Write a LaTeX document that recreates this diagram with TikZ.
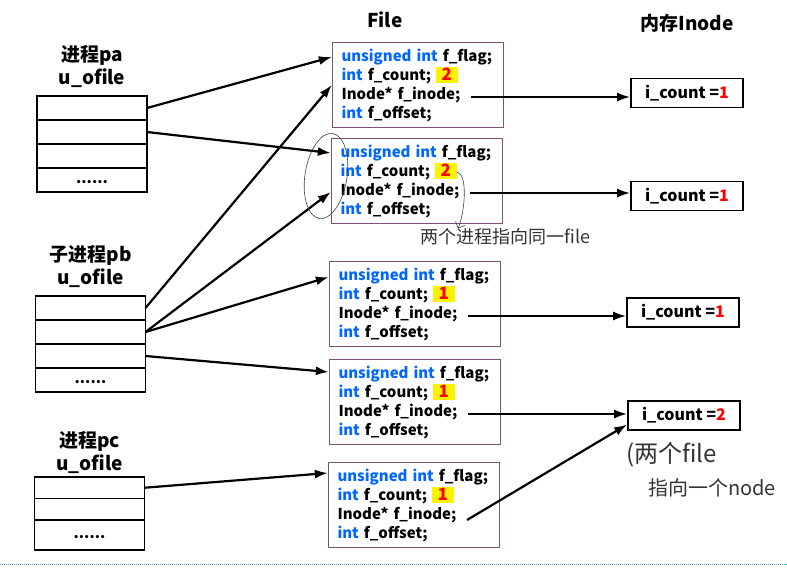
\documentclass[tikz,border=0pt]{standalone}
\usepackage{fontspec}
\setmainfont{Noto Sans CJK SC}
\usetikzlibrary{arrows.meta,positioning,calc}
\definecolor{kwd}{RGB}{0,102,255}
\definecolor{filec}{RGB}{128,80,120}
\definecolor{sepc}{RGB}{75,172,198}
\newcommand{\kwd}[1]{\textcolor{kwd}{#1}}
\newcommand{\cntbox}[1]{{\setlength{\fboxsep}{0pt}\colorbox{yellow}{\rule[-3pt]{0pt}{16.5pt}\hspace{5.5pt}{\fontsize{17}{17}\selectfont\textcolor{red}{#1}}\hspace{5.5pt}}}}
\newcommand{\fieldlist}[1]{\kwd{unsigned int} f\_flag;\\\kwd{int} f\_count;\hspace{5pt}\cntbox{#1}\\Inode* f\_inode;\\\kwd{int} f\_offset;}
\newcommand{\dotrow}{\rule{0pt}{8pt}\makebox[32pt]{.\hfill.\hfill.\hfill.\hfill.\hfill.}}

\begin{document}
\begin{tikzpicture}[x=1pt,y=-1pt,
  slot/.style={draw, line width=1.6pt, minimum width=110pt, minimum height=24pt, inner sep=0pt, outer sep=0pt, font=\fontsize{15}{15}\selectfont\bfseries},
  proc/.style={align=center, inner sep=0pt, font=\fontsize{19}{23}\selectfont\bfseries},
  filebox/.style={draw=filec, line width=1.3pt, text width=153pt, inner xsep=9pt, inner ysep=0pt, minimum height=85pt, align=left, font=\fontsize{15}{19}\selectfont\bfseries},
  inode/.style={draw, line width=1.6pt, minimum width=112pt, minimum height=29pt, font=\fontsize{16}{16}\selectfont\bfseries},
  head/.style={font=\fontsize{19}{19}\selectfont\bfseries},
  link/.style={-{Latex[length=13pt,width=9pt]}, line width=2.2pt},
  hand/.style={black!75, line width=0.6pt},
  note/.style={black!80, inner sep=0pt, font=\fontsize{18}{18}\selectfont}]
\useasboundingbox (0,0) rectangle (787,573);

% headings
\node[head] (hfile) at (385,20) {File};
\node[head] (hinode) at (687,23) {内存Inode};

% u_ofile tables
\node[slot] (pa1) at (92,108) {};
\node[slot, below=0pt of pa1] (pa2) {};
\node[slot, below=0pt of pa2] (pa3) {};
\node[slot, below=0pt of pa3] (pa4) {\dotrow};
\node[proc, above=8pt of pa1] (la) {进程pa\\u\_ofile};

\node[slot] (pb1) at (90.5,308) {};
\node[slot, below=0pt of pb1] (pb2) {};
\node[slot, below=0pt of pb2] (pb3) {};
\node[slot, below=0pt of pb3] (pb4) {\dotrow};
\node[proc, above=8pt of pb1] (lb) {子进程pb\\u\_ofile};

\node[slot, minimum height=21.5pt] (pc1) at (89.5,487.75) {};
\node[slot, minimum height=21.5pt, below=0pt of pc1] (pc2) {};
\node[slot, minimum height=30pt, below=0pt of pc2] (pc3) {\dotrow};
\node[proc, above=3pt of pc1] (lc) {进程pc\\u\_ofile};

% file structs
\node[filebox] (f1) at (418,85) {\fieldlist{2}};
\node[filebox] (f2) at (417,181) {\fieldlist{2}};
\node[filebox] (f3) at (415,304) {\fieldlist{1}};
\node[filebox] (f4) at (415,402) {\fieldlist{1}};
\node[filebox] (f5) at (414,505) {\fieldlist{1}};

% inodes
\node[inode] (i1) at (687,93) {i\_count =\textcolor{red}{1}};
\node[inode] (i2) at (687,196) {i\_count =\textcolor{red}{1}};
\node[inode] (i3) at (683,312.5) {i\_count =\textcolor{red}{1}};
\node[inode] (i4) at (684,415.5) {i\_count =\textcolor{red}{2}};

\coordinate (p1) at ([shift={(53,12)}]f1.center);
\coordinate (p2) at ([shift={(53,12)}]f2.center);
\coordinate (p3) at ([shift={(53,12)}]f3.center);
\coordinate (p4) at ([shift={(53,12)}]f4.center);
\coordinate (p5) at ([shift={(53,15)}]f5.center);

% table -> file
\draw[link] (pa1.east) -- ([yshift=28pt]f1.west);
\draw[link] (pa2.east) -- ([yshift=28pt]f2.west);
\draw[link] (pb1.east) -- (f1.west);
\draw[link] (pb2.east) -- ([yshift=-11pt]f2.west);
\draw[link] (pb2.east) -- ([yshift=27pt]f3.west);
\draw[link] (pb3.east) -- ([yshift=30pt]f4.west);
\draw[link] (pc1.east) -- ([yshift=32pt]f5.west);

% file -> inode
\draw[link] (p1) -- (p1 -| i1.west);
\draw[link] (p2) -- (p2 -| i2.west);
\draw[link] (p3) -- (p3 -| i3.west);
\draw[link] (p4) -- (p4 -| i4.west);
\draw[link] (p5) -- ([yshift=-9pt]i4.west);

% handwritten notes
\draw[hand, rotate around={-9:(326,176)}] (326,176) ellipse (21 and 43);
\coordinate (c2) at ([shift={(40,-9)}]f2.center);
\node[note, anchor=west] (n1) at (420,237) {两个进程指向同一file};
\draw[hand, -{Straight Barb[length=5pt]}] (c2) .. controls (468,174) and (465,212) .. ([xshift=38pt]n1.north west);
\node[note, font=\fontsize{24}{24}\selectfont, anchor=west] (n2) at (626,455) {(两个file};
\node[note, font=\fontsize{20}{20}\selectfont, anchor=west] (n3) at (648,488) {指向一个node};

\draw[sepc, line width=0.8pt, dash pattern=on 1pt off 1pt] (0,564) -- (787,564);
\end{tikzpicture}
\end{document}
